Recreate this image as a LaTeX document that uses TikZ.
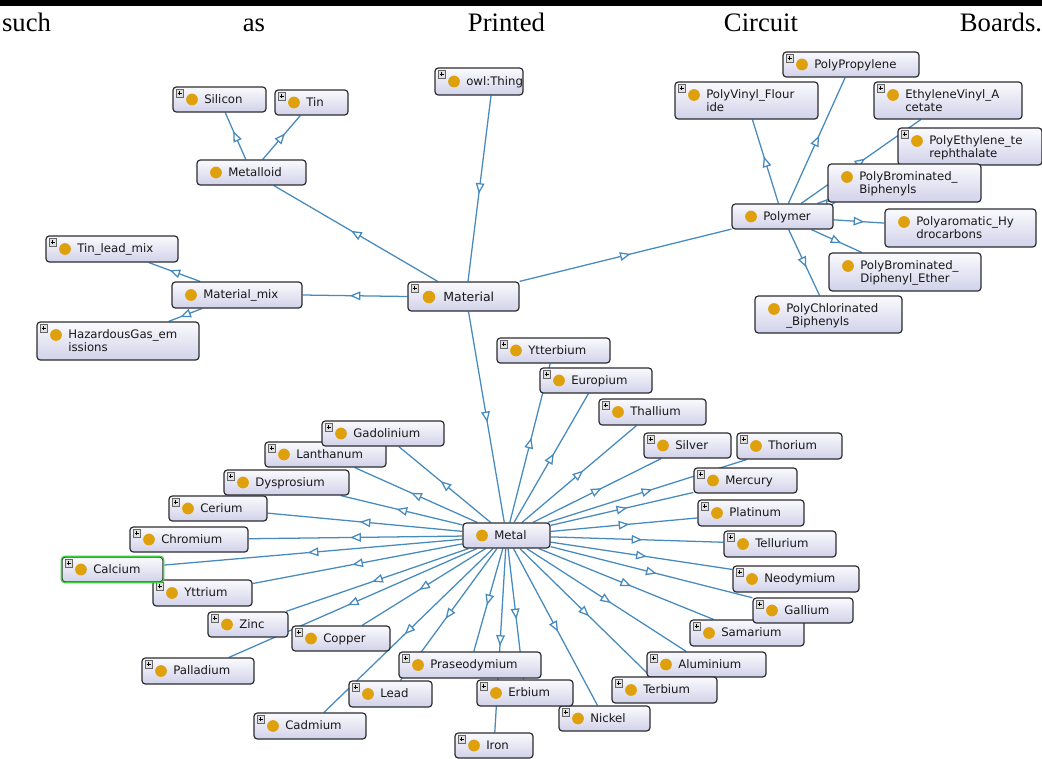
\documentclass[tikz,border=0pt]{standalone}
\usepackage{fontspec}
\setmainfont{DejaVu Sans}
\newfontfamily\serifw{Liberation Serif}
\usetikzlibrary{arrows.meta,decorations.markings,calc}
\definecolor{edgec}{RGB}{70,138,190}
\definecolor{dotc}{RGB}{222,160,12}
\definecolor{boxtop}{RGB}{250,250,253}
\definecolor{boxbot}{RGB}{210,210,234}
\definecolor{boxline}{RGB}{45,45,50}
\definecolor{selgreen}{RGB}{60,205,60}
\pgfdeclarelayer{bg}\pgfsetlayers{bg,main}
\tikzset{
 cbox/.style={rectangle, rounded corners=2.5pt, draw=boxline, line width=0.9pt, top color=boxtop, bottom color=boxbot, inner sep=0pt},
 lbl/.style={font=\fontsize{8.8}{10}\selectfont, inner sep=0pt, anchor=base west, text=black!90},
 bigl/.style={font=\fontsize{9.4}{11}\selectfont, inner sep=0pt, anchor=base west, text=black!90},
 word/.style={font=\serifw\fontsize{20}{24}\selectfont, inner sep=0pt, anchor=base},
 edge/.style={draw=edgec, line width=0.95pt, postaction={decorate},
   decoration={markings, mark=at position 0.5 with {\arrow[xshift=4pt]{Triangle[length=8pt,width=6.5pt,fill=white]}}}},
 plusbg/.style={draw=black!60, fill=black!12, line width=0.4pt},
 plusfg/.style={draw=black, line width=0.6pt}
}
\newcommand\plusicon[2]{%
 \path[plusbg] ({#1+3},{#2+2.5}) rectangle ({#1+10.5},{#2+10});
 \path[plusfg] ({#1+4.7},{#2+6.25}) -- ({#1+8.8},{#2+6.25}) ({#1+6.75},{#2+4.2}) -- ({#1+6.75},{#2+8.3});
}
\newcommand\cls[8]{%
 \pgfmathsetmacro\clsW{(#4-#2)*0.75}%
 \pgfmathsetmacro\clsH{(#5-#3)*0.75}%
 \node[cbox, minimum width=\clsW pt, minimum height=\clsH pt] (#1) at ({(#2+#4)/2},{(#3+#5)/2}) {};
 \ifnum#6=1 \plusicon{#2}{#3}\fi
 \if\relax\detokenize{#8}\relax
   \fill[dotc] ({#2+19},{(#3+#5)/2}) circle[radius=4.4pt];
   \node[lbl] at ({#2+31},{(#3+#5)/2+3.8}) {#7};
 \else
   \fill[dotc] ({#2+19},{#3+13}) circle[radius=4.4pt];
   \node[lbl] at ({#2+31},{#3+16}) {#7};
   \node[lbl] at ({#2+31},{#3+29}) {#8};
 \fi
}
\begin{document}
\begin{tikzpicture}[x=0.75pt,y=-0.75pt]
\path[use as bounding box] (0,0) rectangle (1042,758);
\begin{pgfonlayer}{bg}
\fill[white] (0,0) rectangle (1042,758);
\end{pgfonlayer}
\fill[black] (0,0) rectangle (1042,5.5);
\node[word] (w1) at (26.5,31) {such};
\node[word] (w2) at (254,31) {as};
\node[word] (w3) at (506.5,31) {Printed};
\node[word] (w4) at (761,31) {Circuit};
\node[word] (w5) at (1001,31) {Boards.};

% upper part
\cls{Thing}{435}{68}{523}{95}{1}{owl:Thing}{}
\cls{Silicon}{173}{87}{266}{112}{1}{Silicon}{}
\cls{Tin}{275}{90}{348}{115}{1}{Tin}{}
\cls{Metalloid}{197}{160}{306}{185}{0}{Metalloid}{}
\node[cbox, minimum width=83.25pt, minimum height=21.75pt] (Material) at (463.5,296.5) {};
\plusicon{408}{282}
\fill[dotc] (429,297) circle[radius=4.7pt];
\node[bigl] at (443,301) {Material};
\cls{Mix}{172}{282}{302}{308}{0}{Material\_mix}{}
\cls{TinLead}{46}{236}{178}{262}{1}{Tin\_lead\_mix}{}
\cls{Haz}{37}{322}{199}{360}{1}{HazardousGas\_em}{issions}
\cls{PP}{783}{52}{919}{77}{1}{PolyPropylene}{}
\cls{PVF}{675}{82}{818}{119}{1}{PolyVinyl\_Flour}{ide}
\cls{EVA}{874}{82}{1022}{119}{1}{EthyleneVinyl\_A}{cetate}
\cls{PET}{898}{128}{1042}{165}{1}{PolyEthylene\_te}{rephthalate}
\cls{PBB}{828}{164}{981}{202}{0}{PolyBrominated\_}{Biphenyls}
\cls{Polymer}{732}{204}{833}{229}{0}{Polymer}{}
\cls{PAH}{885}{209}{1036}{247}{0}{Polyaromatic\_Hy}{drocarbons}
\cls{PBDE}{829}{253}{981}{291}{0}{PolyBrominated\_}{Diphenyl\_Ether}
\cls{PCB}{755}{296}{902}{333}{0}{PolyChlorinated}{\_Biphenyls}

% metals
\cls{Metal}{463}{523}{550}{548}{0}{Metal}{}
\cls{Ytterbium}{497}{338}{610}{363}{1}{Ytterbium}{}
\cls{Europium}{540}{368}{652}{393}{1}{Europium}{}
\cls{Thallium}{599}{399}{706}{425}{1}{Thallium}{}
\cls{Silver}{644}{433}{731}{458}{1}{Silver}{}
\cls{Thorium}{737}{433}{842}{459}{1}{Thorium}{}
\cls{Mercury}{694}{468}{797}{493}{1}{Mercury}{}
\cls{Platinum}{698}{500}{804}{526}{1}{Platinum}{}
\cls{Tellurium}{724}{531}{836}{557}{1}{Tellurium}{}
\cls{Neodymium}{733}{566}{859}{592}{1}{Neodymium}{}
\cls{Samarium}{690}{620}{804}{646}{1}{Samarium}{}
\cls{Gallium}{753}{598}{853}{623}{1}{Gallium}{}
\cls{Aluminium}{647}{652}{766}{677}{1}{Aluminium}{}
\cls{Terbium}{612}{677}{717}{703}{1}{Terbium}{}
\cls{Nickel}{559}{706}{650}{731}{1}{Nickel}{}
\cls{Iron}{455}{733}{533}{758}{1}{Iron}{}
\cls{Erbium}{477}{680}{573}{706}{1}{Erbium}{}
\cls{Praseodymium}{399}{652}{541}{678}{1}{Praseodymium}{}
\cls{Lead}{349}{681}{432}{707}{1}{Lead}{}
\cls{Cadmium}{254}{713}{366}{739}{1}{Cadmium}{}
\cls{Palladium}{142}{658}{254}{684}{1}{Palladium}{}
\cls{Copper}{292}{626}{390}{651}{1}{Copper}{}
\cls{Zinc}{208}{612}{288}{637}{1}{Zinc}{}
\cls{Yttrium}{153}{580}{252}{606}{1}{Yttrium}{}
\cls{Calcium}{62}{557}{163}{582}{1}{Calcium}{}
\draw[selgreen, line width=1pt, rounded corners=2.5pt] (Calcium.south west) rectangle (Calcium.north east);
\cls{Chromium}{130}{527}{248}{552}{1}{Chromium}{}
\cls{Cerium}{169}{496}{267}{521}{1}{Cerium}{}
\cls{Dysprosium}{224}{470}{349}{495}{1}{Dysprosium}{}
\cls{Lanthanum}{265}{442}{386}{467}{1}{Lanthanum}{}
\cls{Gadolinium}{322}{421}{444}{446}{1}{Gadolinium}{}

\begin{pgfonlayer}{bg}
\draw[edge] ($(Thing.south)+(12,0)$) -- ($(Material.north)+(4.5,0)$);
\draw[edge] (Material) -- (Metalloid);
\draw[edge] (Metalloid) -- (Silicon);
\draw[edge] (Metalloid) -- (Tin);
\draw[edge] (Material.west) -- (Mix.east);
\draw[edge] (Mix) -- (TinLead);
\draw[edge] (Mix) -- (Haz);
\draw[edge] (Material.north east) -- (Polymer);
\foreach \c in {PP,PVF,EVA,PET,PBB,PAH,PBDE,PCB}
  \draw[edge] (Polymer) -- (\c);
\draw[edge] ($(Material.south)+(5,0)$) -- (Metal);
\foreach \c in {Ytterbium,Europium,Thallium,Silver,Thorium,Mercury,Platinum,Tellurium,Neodymium,Gallium,Samarium,Aluminium,Terbium,Nickel,Iron,Erbium,Praseodymium,Lead,Cadmium,Palladium,Copper,Zinc,Yttrium,Calcium,Chromium,Cerium,Dysprosium,Lanthanum,Gadolinium}
  \draw[edge] (Metal) -- (\c);
\end{pgfonlayer}
\end{tikzpicture}
\end{document}
